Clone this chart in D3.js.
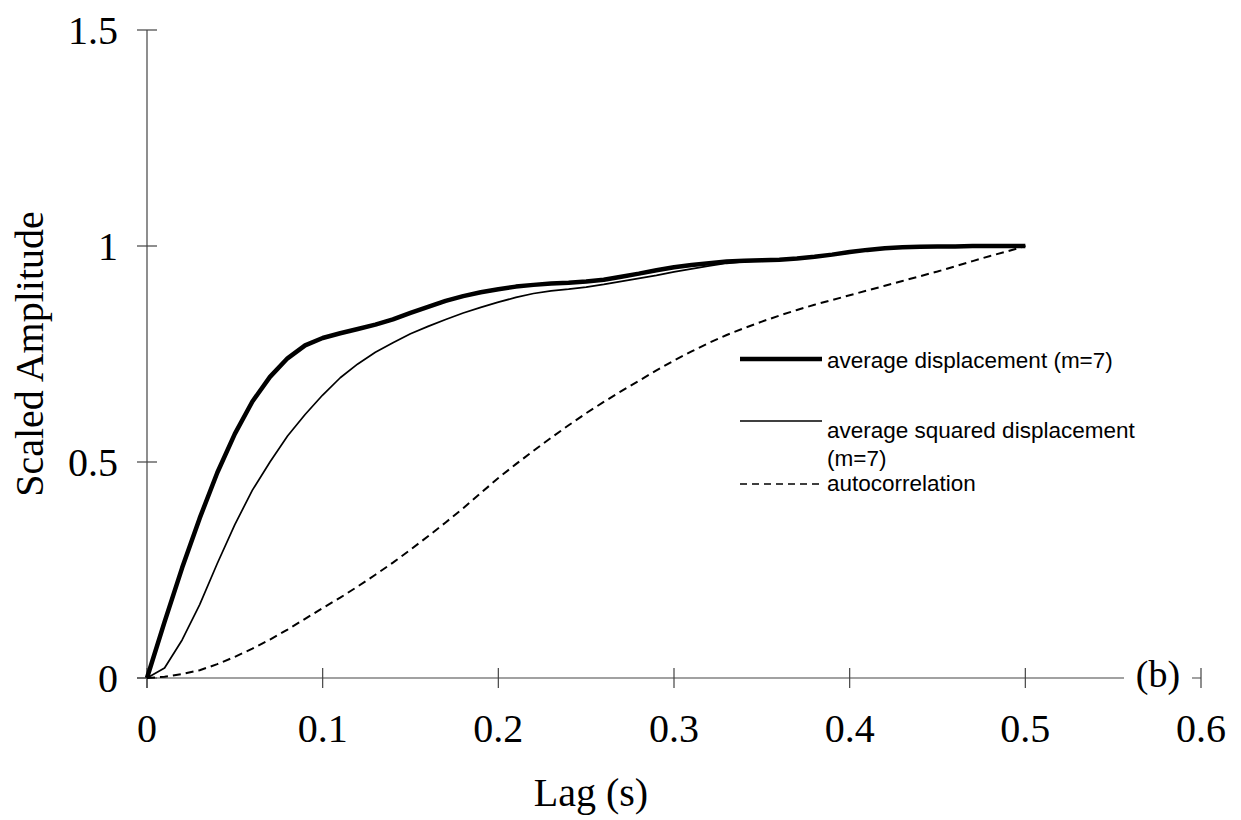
<!DOCTYPE html>
<html>
<head>
<meta charset="utf-8">
<script src="https://cdn.jsdelivr.net/npm/d3@7"></script>
<style>
  html, body { margin: 0; padding: 0; background: #fff; }
  svg { display: block; }
</style>
</head>
<body>
<svg id="chart" width="1241" height="820"></svg>
<script>
// Lag values (s)
const lags = [0,0.01,0.02,0.03,0.04,0.05,0.06,0.07,0.08,0.09,0.10,0.11,0.12,0.13,0.14,0.15,0.16,0.17,0.18,0.19,0.20,
  0.21,0.22,0.23,0.24,0.25,0.26,0.27,0.28,0.29,0.30,0.31,0.32,0.33,0.34,0.35,0.36,0.37,0.38,0.39,0.40,
  0.41,0.42,0.43,0.44,0.45,0.46,0.47,0.48,0.49,0.50];

// average displacement (m=7)
const avgDisp = [0,0.13,0.255,0.37,0.475,0.565,0.64,0.697,0.74,0.77,0.787,0.798,0.808,0.818,0.83,0.845,0.859,0.873,0.884,0.893,0.9,
  0.906,0.91,0.913,0.915,0.918,0.922,0.929,0.936,0.944,0.951,0.956,0.96,0.964,0.966,0.967,0.968,0.971,0.975,0.98,0.986,
  0.991,0.995,0.997,0.998,0.999,0.999,1,1,1,1];

// average squared displacement (m=7)
const avgSqDisp = [0,0.023,0.088,0.17,0.265,0.355,0.435,0.5,0.56,0.61,0.655,0.695,0.727,0.754,0.776,0.797,0.814,0.83,0.845,0.858,0.87,
  0.881,0.89,0.896,0.9,0.905,0.911,0.918,0.925,0.932,0.94,0.947,0.954,0.96,0.964,0.966,0.968,0.971,0.975,0.98,0.986,
  0.991,0.995,0.997,0.998,0.999,0.999,1,1,1,1];

// autocorrelation
const autocorr = [0,0.003,0.009,0.018,0.032,0.049,0.068,0.089,0.112,0.137,0.162,0.186,0.212,0.239,0.267,0.297,0.328,0.36,0.393,0.428,0.463,
  0.495,0.526,0.556,0.585,0.613,0.639,0.664,0.688,0.712,0.735,0.756,0.776,0.794,0.81,0.825,0.839,0.852,0.864,0.875,0.886,
  0.897,0.908,0.919,0.93,0.941,0.953,0.965,0.977,0.988,1.0];

const xTicks = [0, 0.1, 0.2, 0.3, 0.4, 0.5, 0.6];
const yTicks = [0, 0.5, 1, 1.5];
const seriesNames = ["average displacement (m=7)", "average squared displacement", "autocorrelation"];

const svg = d3.select("#chart");
const serif = "'Liberation Serif', 'Times New Roman', serif";
const sans = "'Liberation Sans', Arial, sans-serif";
const axisColor = "#444";

const x = d3.scaleLinear().domain([0, 0.6]).range([147, 1201]);
const y = d3.scaleLinear().domain([0, 1.5]).range([678, 30]);

// Axis lines (extending past the origin like the tick crosses)
svg.append("line").attr("x1", x(0)).attr("x2", x(0)).attr("y1", y(1.5)).attr("y2", y(0) + 10)
  .attr("stroke", axisColor).attr("stroke-width", 1.2);
svg.append("line").attr("x1", x(0) - 10).attr("x2", x(0.6)).attr("y1", y(0)).attr("y2", y(0))
  .attr("stroke", axisColor).attr("stroke-width", 1.2);

// Crossing tick marks
svg.selectAll(".ytick").data(yTicks).enter().append("line")
  .attr("x1", x(0) - 10).attr("x2", x(0) + 10)
  .attr("y1", d => y(d)).attr("y2", d => y(d))
  .attr("stroke", axisColor).attr("stroke-width", 1.2);
svg.selectAll(".xtick").data(xTicks).enter().append("line")
  .attr("x1", d => x(d)).attr("x2", d => x(d))
  .attr("y1", y(0) - 10).attr("y2", y(0) + 10)
  .attr("stroke", axisColor).attr("stroke-width", 1.2);

// Tick labels
svg.selectAll(".ylab").data(yTicks).enter().append("text")
  .attr("x", x(0) - 29).attr("y", d => y(d)).attr("dy", "0.35em")
  .attr("text-anchor", "end").attr("font-family", serif).attr("font-size", 40)
  .text(d => d3.format("")(d));
svg.selectAll(".xlab").data(xTicks).enter().append("text")
  .attr("x", d => x(d)).attr("y", 742)
  .attr("text-anchor", "middle").attr("font-family", serif).attr("font-size", 40)
  .text(d => d3.format("")(d));

// Axis titles
svg.append("text").attr("x", 591).attr("y", 806).attr("text-anchor", "middle")
  .attr("font-family", serif).attr("font-size", 40).text("Lag (s)");
svg.append("text").attr("transform", `translate(43, ${y(0.75)}) rotate(-90)`)
  .attr("text-anchor", "middle").attr("font-family", serif).attr("font-size", 40)
  .text("Scaled Amplitude");

// Panel label sitting on the x axis
svg.append("rect").attr("x", 1124).attr("y", y(0) - 22).attr("width", 68).attr("height", 44).attr("fill", "#fff");
svg.append("text").attr("x", 1158).attr("y", y(0) + 9).attr("text-anchor", "middle")
  .attr("font-family", serif).attr("font-size", 38).text("(b)");

// Series lines
const line = vals => d3.line().x((d, i) => x(lags[i])).y(d => y(d))(vals);
svg.append("path").attr("d", line(autocorr)).attr("fill", "none")
  .attr("stroke", "#000").attr("stroke-width", 2).attr("stroke-dasharray", "8,5");
svg.append("path").attr("d", line(avgSqDisp)).attr("fill", "none")
  .attr("stroke", "#000").attr("stroke-width", 1.7).attr("stroke-linejoin", "round");
svg.append("path").attr("d", line(avgDisp)).attr("fill", "none")
  .attr("stroke", "#000").attr("stroke-width", 4.5).attr("stroke-linejoin", "round");

// Legend
const lg = svg.append("g").attr("font-family", sans).attr("font-size", 22.5).attr("fill", "#000");
lg.append("line").attr("x1", 740).attr("x2", 822).attr("y1", 359).attr("y2", 359)
  .attr("stroke", "#000").attr("stroke-width", 4.5);
lg.append("text").attr("x", 827).attr("y", 368).text(seriesNames[0]);
lg.append("line").attr("x1", 740).attr("x2", 822).attr("y1", 421).attr("y2", 421)
  .attr("stroke", "#000").attr("stroke-width", 1.7);
lg.append("text").attr("x", 827).attr("y", 438).text(seriesNames[1]);
lg.append("text").attr("x", 827).attr("y", 466).text("(m=7)");
lg.append("line").attr("x1", 740).attr("x2", 822).attr("y1", 484).attr("y2", 484)
  .attr("stroke", "#000").attr("stroke-width", 1.5).attr("stroke-dasharray", "7,5");
lg.append("text").attr("x", 827).attr("y", 491).text(seriesNames[2]);
</script>
</body>
</html>
